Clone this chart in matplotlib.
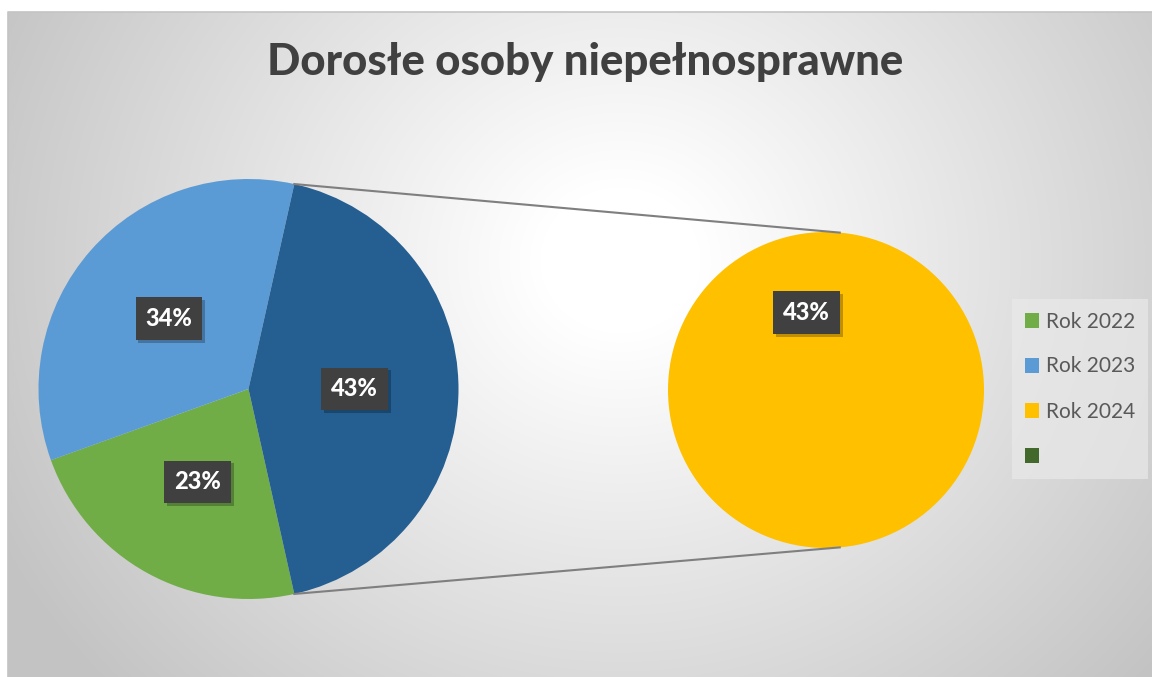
import matplotlib
matplotlib.use("Agg")
import matplotlib.pyplot as plt
import matplotlib.patheffects as pe
from matplotlib.patches import Patch
import numpy as np

plt.rcParams['font.family'] = ['Lato', 'DejaVu Sans']

# dane
title = 'Dorosłe osoby niepełnosprawne'
labels = ['Rok 2022', 'Rok 2023', 'Rok 2024', '']
values = [23, 34, 43]
colors = ['#70AD47', '#5B9BD5', '#FFC000', '#43682B']
other_color = '#255E91'

W, H = 1152, 677
fig = plt.figure(figsize=(W / 100, H / 100), dpi=100)
ax = fig.add_axes([0, 0, 1, 1])

# tlo - gradient radialny
yy, xx = np.mgrid[0:H, 0:W]
d = np.hypot(xx - 620, (yy - 260) * 1.1)
g = (255 - 60 * np.clip((d - 80) / 620, 0, 1)) / 255
img = np.dstack([g, g, g])
img[:12, :] = 1
img[:, :8] = 1
ax.imshow(img, extent=(0, W, 0, H), origin='upper', zorder=0, aspect='auto')
ax.plot([8, 8, W], [0, H - 12, H - 12], color='#c4c4c4', lw=1.2, zorder=1)

total = sum(values)
half = values[2] / total * 180

# lewy wykres
lc = (248.5, 288)
lr = 210
wl, _ = ax.pie([values[0], values[1], values[2]],
               colors=[colors[0], colors[1], other_color],
               center=lc, radius=lr, startangle=-half, counterclock=False,
               frame=True, wedgeprops=dict(linewidth=0))

# prawy wykres
rc = (826, 287)
rr = 158
wr, _ = ax.pie([values[2]], colors=[colors[2]], center=rc, radius=rr,
               startangle=-76, frame=True, wedgeprops=dict(linewidth=0))

# linie laczace
for s in (1, -1):
    a1 = np.deg2rad(s * half)
    a2 = np.deg2rad(s * 85)
    ax.plot([lc[0] + lr * np.cos(a1), rc[0] + rr * np.cos(a2)],
            [lc[1] + lr * np.sin(a1), rc[1] + rr * np.sin(a2)],
            color='#7f7f7f', lw=1.5, zorder=3)


def add_label(w, v, c, r):
    ang = np.deg2rad((w.theta1 + w.theta2) / 2)
    x = c[0] + 0.505 * r * np.cos(ang)
    y = c[1] + 0.505 * r * np.sin(ang)
    t = ax.text(x, y, '%d%%' % round(v / total * 100), ha='center', va='center',
                color='white', fontsize=17, fontweight='black', zorder=5,
                bbox=dict(boxstyle='square,pad=0.42', fc='#404040', ec='none',
                          lw=0))
    t.get_bbox_patch().set_path_effects([
        pe.SimplePatchShadow(offset=(2, -2), shadow_rgbFace='black', alpha=0.25),
        pe.Normal()])


for w, v in zip(wl, [values[0], values[1], values[2]]):
    add_label(w, v, lc, lr)
add_label(wr[0], values[2], rc, rr)

ax.set_xlim(0, W)
ax.set_ylim(0, H)
ax.axis('off')

fig.text(585 / W, 1 - 62 / H, title, ha='center', va='center',
         fontsize=31.5, fontweight='black', color='#404040')

handles = [Patch(facecolor=c, edgecolor='none') for c in colors]
leg = ax.legend(handles, labels, loc='upper left',
                bbox_to_anchor=(1012 / W, 1 - 299 / H), borderaxespad=0,
                fontsize=15, handlelength=0.7, handleheight=0.7,
                handletextpad=0.35, labelspacing=1.2, borderpad=0.6,
                frameon=True, fancybox=False,
                facecolor='#e9e9e9', edgecolor='none', framealpha=0.7,
                labelcolor='#595959')

fig.savefig('out.png', dpi=100)
